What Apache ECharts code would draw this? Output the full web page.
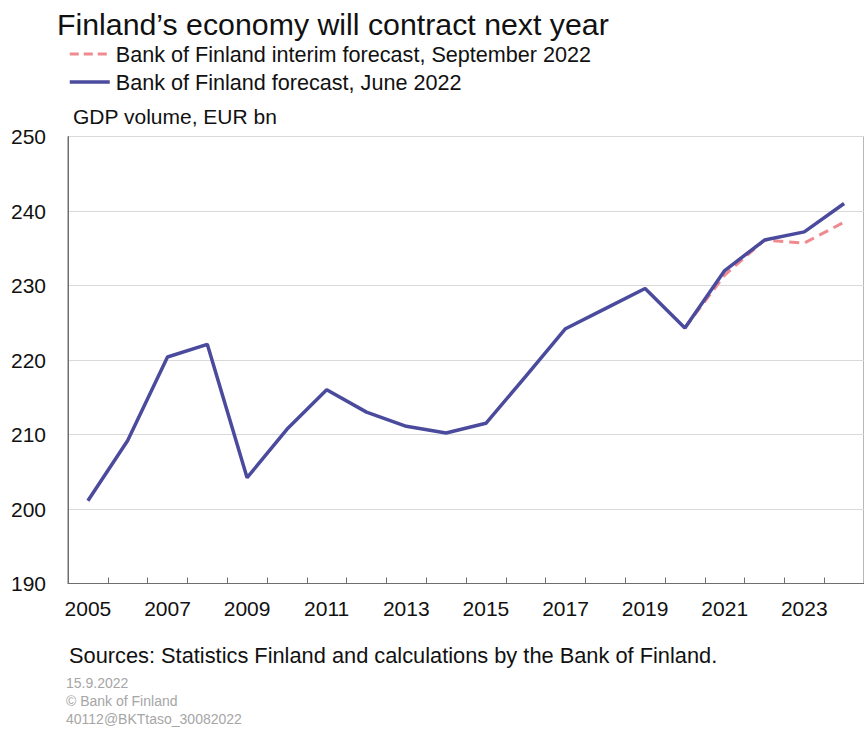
<!DOCTYPE html>
<html>
<head>
<meta charset="utf-8">
<script src="https://cdn.jsdelivr.net/npm/echarts@6/dist/echarts.min.js"></script>
<style>
html,body{margin:0;padding:0;background:#fff;}
#chart{width:864px;height:731px;}
</style>
</head>
<body>
<div id="chart"></div>
<script>
const years = ['2005','2006','2007','2008','2009','2010','2011','2012','2013','2014','2015','2016','2017','2018','2019','2020','2021','2022','2023','2024'];
const juneForecast = [201.1,209.2,220.4,222.1,204.2,210.7,216.0,213.0,211.1,210.2,211.5,217.8,224.2,226.9,229.6,224.3,232.0,236.1,237.2,241.0];
const septForecast = [null,null,null,null,null,null,null,null,null,null,null,null,null,null,null,224.3,231.4,236.1,235.7,238.5];
const yTicks = {min:190, max:250, step:10};
const seriesNames = ['Bank of Finland interim forecast, September 2022','Bank of Finland forecast, June 2022'];

const chart = echarts.init(document.getElementById('chart'), null, {renderer:'svg'});
const FONT = 'Liberation Sans, Arial, sans-serif';
const SEPT_COLOR = '#ef8a8f', JUNE_COLOR = '#4b4b9e';
chart.setOption({
  backgroundColor:'#ffffff',
  animation:false,
  textStyle:{fontFamily:FONT},
  title:[
    {text:"Finland\u2019s economy will contract next year", left:52, top:4,
     textStyle:{fontSize:30.3, fontWeight:'normal', color:'#111', fontFamily:FONT}},
    {text:'GDP volume, EUR bn', left:68, top:101,
     textStyle:{fontSize:21, fontWeight:'normal', color:'#111', fontFamily:FONT}},
    {text:'Sources: Statistics Finland and calculations by the Bank of Finland.', left:64, top:639,
     textStyle:{fontSize:21.8, fontWeight:'normal', color:'#111', fontFamily:FONT}},
    {text:'15.9.2022\n\u00a9 Bank of Finland\n40112@BKTtaso_30082022', left:61, top:669,
     textStyle:{fontSize:14, fontWeight:'normal', color:'#a6a6a6', lineHeight:18, fontFamily:FONT}}
  ],
  legend:{
    orient:'vertical', left:68, top:43, padding:0,
    itemWidth:40, itemHeight:14, itemGap:6,
    itemStyle:{opacity:0},
    data:[
      {name:seriesNames[0], lineStyle:{color:SEPT_COLOR, width:3, type:[9,5]}},
      {name:seriesNames[1], lineStyle:{color:JUNE_COLOR, width:3.5}}
    ],
    textStyle:{fontSize:21.6, color:'#111', lineHeight:22, padding:[0,0,0,1], fontFamily:FONT}
  },
  grid:{left:68, right:-9, top:136.5, bottom:147.5, show:true, borderColor:'#6e6e6e', borderWidth:1},
  xAxis:{
    type:'category', data:years, boundaryGap:true,
    axisLine:{lineStyle:{color:'#6e6e6e', width:1}},
    axisTick:{show:true, inside:true, length:6, interval:0, lineStyle:{color:'#6e6e6e'}},
    axisLabel:{interval:1, fontSize:21, color:'#111', margin:14, fontFamily:FONT},
    splitLine:{show:false}
  },
  yAxis:{
    type:'value', min:yTicks.min, max:yTicks.max, interval:yTicks.step,
    axisLine:{show:true, lineStyle:{color:'#6e6e6e', width:1}},
    axisTick:{show:false},
    axisLabel:{fontSize:21, color:'#111', margin:22, fontFamily:FONT},
    splitLine:{show:true, lineStyle:{color:'#d9d9d9', width:1}}
  },
  series:[
    {name:seriesNames[0], type:'line', data:septForecast,
     symbol:'none', connectNulls:false,
     lineStyle:{color:SEPT_COLOR, width:3, type:[10,6]}, itemStyle:{color:SEPT_COLOR}, z:2},
    {name:seriesNames[1], type:'line', data:juneForecast,
     symbol:'none',
     lineStyle:{color:JUNE_COLOR, width:3.5}, itemStyle:{color:JUNE_COLOR}, z:3}
  ]
});
</script>
</body>
</html>
